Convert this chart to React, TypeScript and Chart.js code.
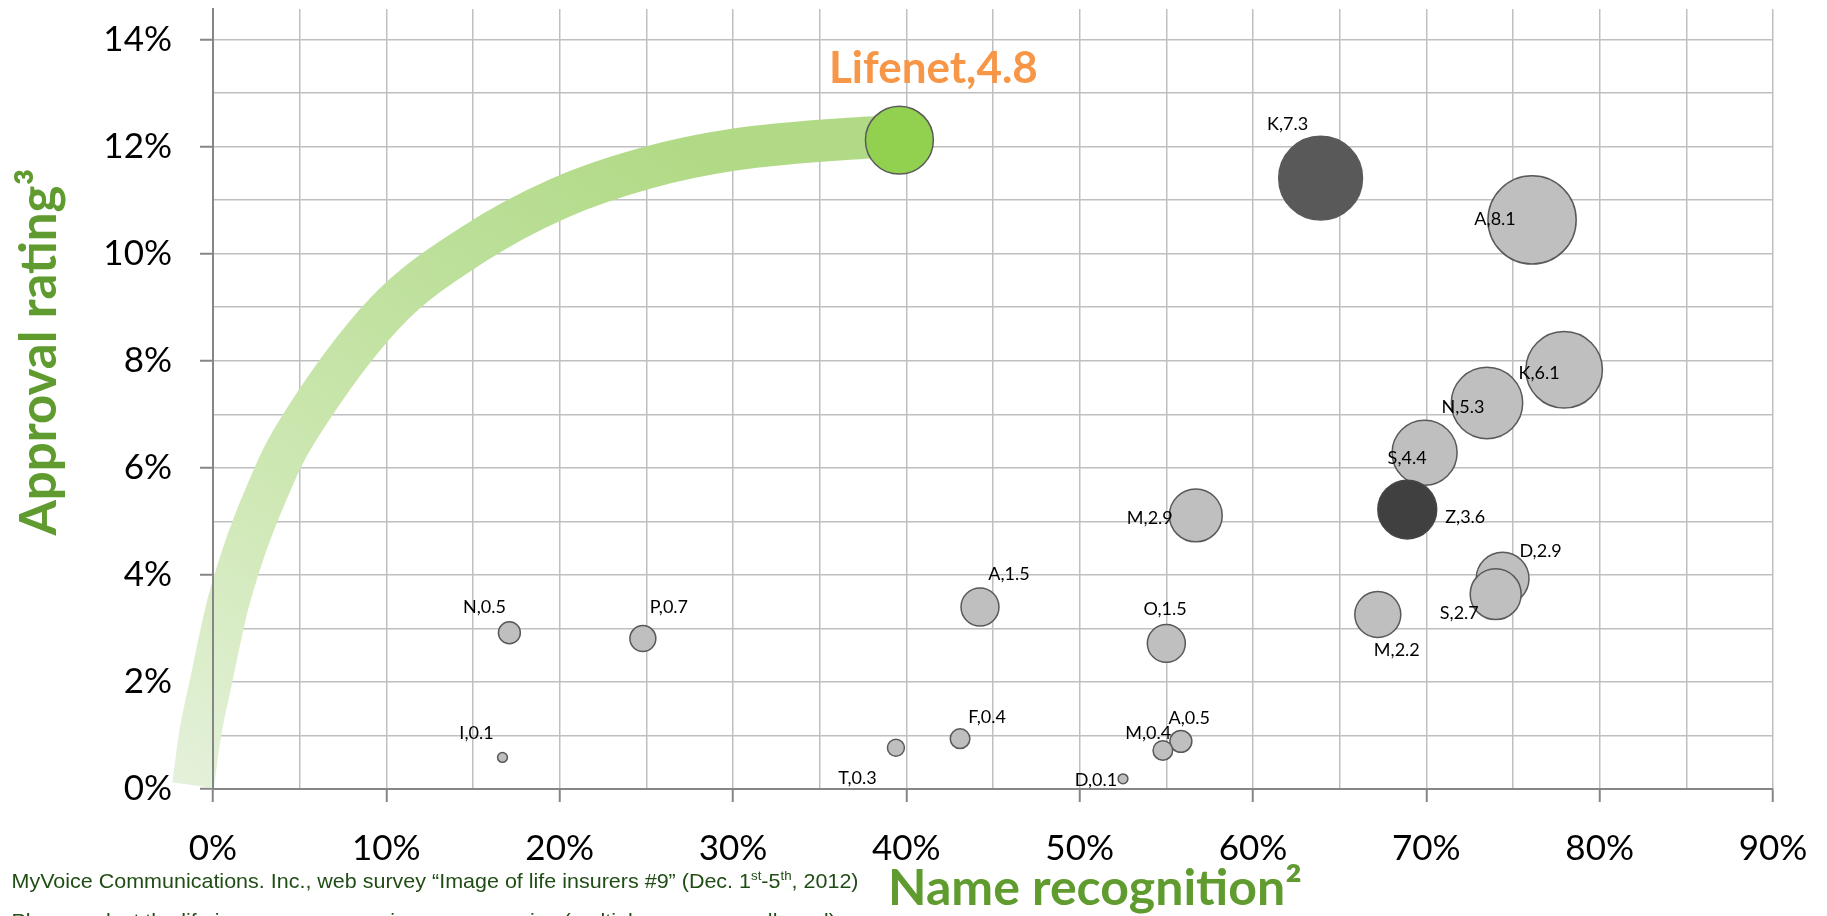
import React, { useEffect, useRef } from 'react';
import { Chart, registerables } from 'chart.js';

Chart.register(...registerables);

// ---------------- data ----------------
const companyNames = ['K', 'A', 'K', 'N', 'S', 'Z', 'M', 'D', 'S', 'M', 'O', 'A', 'A', 'M', 'D', 'N', 'P', 'I', 'T', 'F'];
const nameRecognition = [63.9, 76.1, 77.95, 73.5, 69.9, 68.9, 56.7, 74.4, 74.0, 67.2, 55.0, 44.25, 55.84, 54.8, 52.5, 17.1, 24.8, 16.7, 39.4, 43.1];
const approvalRating = [11.41, 10.63, 7.83, 7.21, 6.28, 5.22, 5.11, 3.93, 3.64, 3.26, 2.72, 3.4, 0.89, 0.72, 0.19, 2.92, 2.81, 0.59, 0.77, 0.94];
const bubbleValues = [7.3, 8.1, 6.1, 5.3, 4.4, 3.6, 2.9, 2.9, 2.7, 2.2, 1.5, 1.5, 0.5, 0.4, 0.1, 0.5, 0.7, 0.1, 0.3, 0.4];

const lifenetName = 'Lifenet';
const lifenetRecognition = [39.6];
const lifenetApproval = [12.12];
const lifenetValue = [4.8];

// trend band centre line, listed from the Lifenet end back to the origin
const trendRecognition = [39.6, 37.8, 30, 25, 20, 15, 10, 5, 3.72, 0.92, -0.12, -0.73, -1.15];
const trendApproval = [12.2, 12.17, 11.94, 11.6, 11.04, 10.17, 8.92, 6.76, 6.0, 3.53, 2.0, 1.05, 0.07];

const yTickValues = [0, 1, 2, 3, 4, 5, 6, 7, 8, 9, 10, 11, 12, 13, 14];

const xTitle = 'Name recognition²';
const yTitle = 'Approval rating³';
const footerParts: [string, boolean][] = [
  ['MyVoice Communications. Inc., web survey “Image of life insurers #9” (Dec. 1', false],
  ['st', true],
  ['-5', false],
  ['th', true],
  [', 2012)', false],
];
const footerLine2 = 'Please select the life insurance companies you recognize (multiple responses allowed)';

// ---------------- styles ----------------
const companyFills = ['#595959', '#bfbfbf', '#bfbfbf', '#bfbfbf', '#bfbfbf', '#404040', '#bfbfbf', '#bfbfbf', '#bfbfbf', '#bfbfbf',
  '#bfbfbf', '#bfbfbf', '#bfbfbf', '#bfbfbf', '#bfbfbf', '#bfbfbf', '#bfbfbf', '#bfbfbf', '#bfbfbf', '#bfbfbf'];
const companyBorders = ['#595959', '#595959', '#595959', '#595959', '#595959', '#464646', '#595959', '#595959', '#595959', '#595959',
  '#595959', '#595959', '#595959', '#595959', '#595959', '#595959', '#595959', '#595959', '#595959', '#595959'];
const labelOffsets: [number, number][] = [
  [-33, -54], [-37, -1], [-25, 3], [-24, 4], [-17.5, 5.4], [58, 7.4], [-46, 3], [38, -27.6], [-36.4, 19.3], [19, 36],
  [-1.3, -34], [29, -32.7], [8.3, -23.6], [-14.7, -17.6], [-27, 1], [-25, -25.4], [26, -31], [-26, -24], [-38.5, 30], [27, -21],
];
const RADIUS_K = 15.5;
const GREEN_TITLE = '#5f9b2f';
const ORANGE = '#f79646';
const GRID = '#bfbfbf';
const AXIS = '#868686';

export default function App() {
  const ref = useRef<HTMLCanvasElement>(null);

  useEffect(() => {
    const canvas = ref.current;
    if (!canvas) return;

    const order = bubbleValues.map((_, i) => i).sort((a, b) => bubbleValues[b] - bubbleValues[a]);

    const companyData = order.map((i) => ({
      x: nameRecognition[i],
      y: approvalRating[i],
      r: RADIUS_K * Math.sqrt(bubbleValues[i]),
      idx: i,
    }));

    const lifenetData = lifenetRecognition.map((x, i) => ({
      x,
      y: lifenetApproval[i],
      r: RADIUS_K * Math.sqrt(lifenetValue[i]),
    }));

    const trendData = trendRecognition.map((x, i) => ({ x, y: trendApproval[i] }));

    const textPlugin = {
      id: 'textPlugin',
      afterDatasetsDraw(chart: any) {
        const ctx = chart.ctx as CanvasRenderingContext2D;
        ctx.save();
        const meta = chart.getDatasetMeta(1);
        ctx.font = '18px Lato';
        ctx.fillStyle = '#000';
        ctx.textAlign = 'center';
        ctx.textBaseline = 'middle';
        meta.data.forEach((el: any, k: number) => {
          const i = companyData[k].idx;
          const [dx, dy] = labelOffsets[i];
          ctx.fillText(`${companyNames[i]},${bubbleValues[i]}`, el.x + dx, el.y + dy);
        });
        const lm = chart.getDatasetMeta(0);
        lm.data.forEach((el: any, i: number) => {
          ctx.font = 'bold 44px Lato';
          ctx.fillStyle = ORANGE;
          ctx.fillText(`${lifenetName},${lifenetValue[i]}`, el.x + 34, el.y - 71);
        });
        ctx.restore();
      },
      afterDraw(chart: any) {
        const ctx = chart.ctx as CanvasRenderingContext2D;
        ctx.save();
        ctx.fillStyle = GREEN_TITLE;
        ctx.font = 'bold 51px Lato';
        ctx.textAlign = 'center';
        ctx.textBaseline = 'middle';
        ctx.translate(40, 352);
        ctx.rotate(-Math.PI / 2);
        ctx.fillText(yTitle, 0, 0);
        ctx.restore();

        ctx.save();
        ctx.fillStyle = GREEN_TITLE;
        ctx.font = 'bold 50px Lato';
        ctx.textAlign = 'left';
        ctx.textBaseline = 'alphabetic';
        ctx.fillText(xTitle, 888, 905);
        ctx.restore();

        ctx.save();
        ctx.fillStyle = '#1f4d14';
        ctx.textBaseline = 'alphabetic';
        ctx.textAlign = 'left';
        const mainFont = '21px "Liberation Sans Narrow", "Liberation Sans", Arial';
        const supFont = '13px "Liberation Sans Narrow", "Liberation Sans", Arial';
        let total = 0;
        footerParts.forEach(([t, sup]) => {
          ctx.font = sup ? supFont : mainFont;
          total += ctx.measureText(t).width;
        });
        const sx = 847 / total;
        ctx.translate(11.5, 888);
        ctx.scale(sx, 1);
        let x = 0;
        footerParts.forEach(([t, sup]) => {
          ctx.font = sup ? supFont : mainFont;
          ctx.fillText(t, x, sup ? -8 : 0);
          x += ctx.measureText(t).width;
        });
        ctx.font = mainFont;
        ctx.fillText(footerLine2, 0, 40);
        ctx.restore();
      },
    };

    const chart = new Chart(canvas, {
      type: 'bubble',
      data: {
        datasets: [
          {
            label: lifenetName,
            data: lifenetData as any,
            backgroundColor: '#92d050',
            borderColor: '#595959',
            borderWidth: 1.5,
          },
          {
            label: 'companies',
            data: companyData as any,
            backgroundColor: (c: any) => companyFills[companyData[c.dataIndex]?.idx ?? 0],
            borderColor: (c: any) => companyBorders[companyData[c.dataIndex]?.idx ?? 0],
            borderWidth: 1.5,
          },
          {
            type: 'line',
            label: 'trend',
            data: trendData as any,
            borderWidth: 42,
            pointRadius: 0,
            fill: false,
            cubicInterpolationMode: 'monotone',
            borderCapStyle: 'butt',
            clip: false as any,
            borderColor: (c: any) => {
              const ch = c.chart;
              if (!ch.chartArea) return '#c8e5aa';
              const xs = ch.scales.x;
              const ys = ch.scales.y;
              const g = ch.ctx.createLinearGradient(
                xs.getPixelForValue(-1), ys.getPixelForValue(0),
                xs.getPixelForValue(25), ys.getPixelForValue(12.5));
              g.addColorStop(0, '#e4f1da');
              g.addColorStop(0.35, '#cfe8b5');
              g.addColorStop(0.7, '#bde09b');
              g.addColorStop(1, '#b1da86');
              return g;
            },
          } as any,
        ],
      },
      options: {
        responsive: false,
        animation: false,
        events: [],
        layout: { autoPadding: false, padding: { top: 9, right: 54, left: 0, bottom: 0 } },
        plugins: {
          legend: { display: false },
          tooltip: { enabled: false },
        },
        scales: {
          x: {
            type: 'linear',
            min: 0,
            max: 90,
            ticks: {
              stepSize: 5,
              padding: 26,
              color: '#000',
              font: { family: 'Lato', size: 35 },
              maxRotation: 0,
              autoSkip: false,
              callback: (v: any) => (Number(v) % 10 === 0 ? `${v}%` : ''),
            },
            grid: {
              color: GRID,
              lineWidth: 1.5,
              tickLength: 13,
              tickWidth: 2,
              tickColor: (c: any) => (c.tick && Number(c.tick.value) % 10 === 0 ? AXIS : 'rgba(0,0,0,0)'),
            },
            border: { color: AXIS, width: 2, z: 1 } as any,
            afterFit: (s: any) => { s.height = 127; s.paddingLeft = 0; s.paddingRight = 0; },
          },
          y: {
            type: 'linear',
            min: 0,
            max: 14.57,
            afterBuildTicks: (s: any) => { s.ticks = yTickValues.map((v) => ({ value: v })); },
            ticks: {
              padding: 28,
              color: '#000',
              font: { family: 'Lato', size: 35 },
              autoSkip: false,
              callback: (v: any) => (Number(v) % 2 === 0 ? `${v}%` : ''),
            },
            grid: {
              color: GRID,
              lineWidth: 1.5,
              tickLength: 13,
              tickWidth: 2,
              tickColor: (c: any) => (c.tick && Number(c.tick.value) % 2 === 0 ? AXIS : 'rgba(0,0,0,0)'),
            },
            border: { color: AXIS, width: 2, z: 1 } as any,
            afterFit: (s: any) => { s.width = 213; s.paddingTop = 0; s.paddingBottom = 0; },
          },
        },
      } as any,
      plugins: [textPlugin],
    });

    return () => chart.destroy();
  }, []);

  return (
    <div style={{ position: 'fixed', left: 0, top: 0, width: 1827, height: 916, background: '#fff', overflow: 'hidden' }}>
      <canvas ref={ref} width={1827} height={916} style={{ display: 'block', width: 1827, height: 916 }} />
    </div>
  );
}
